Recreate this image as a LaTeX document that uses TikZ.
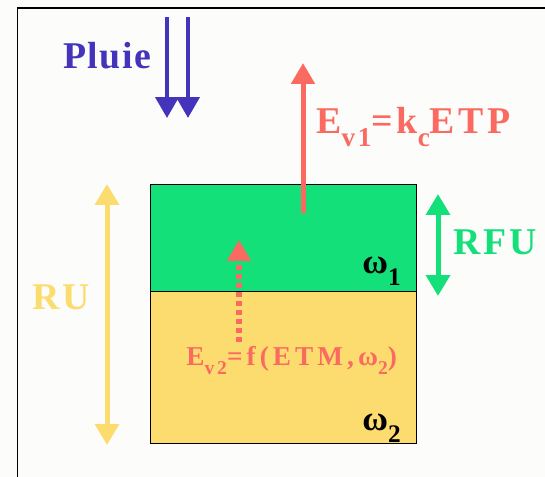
\documentclass[tikz,border=0pt]{standalone}
\usepackage{fontspec}
\usepackage{graphicx}
\usepackage{xcolor}
\setmainfont{Liberation Serif}
\usetikzlibrary{arrows.meta}

\definecolor{pluieblue}{RGB}{68,51,187}
\definecolor{evapred}{RGB}{250,106,96}
\definecolor{rfugreen}{RGB}{20,224,122}
\definecolor{ruyellow}{RGB}{253,220,111}
\definecolor{paper}{RGB}{252,252,250}

\newcommand{\lowsub}[1]{\raisebox{-0.35em}{\scalebox{0.72}{#1}}}

\begin{document}
\begin{tikzpicture}[x=0.02cm,y=-0.02cm,
    bigtxt/.style={font=\fontsize{21.5}{24}\selectfont\bfseries\addfontfeature{LetterSpace=8},
      inner sep=0pt, anchor=base west},
    midtxt/.style={font=\fontsize{15.5}{18}\selectfont\bfseries\addfontfeature{LetterSpace=15},
      inner sep=0pt, anchor=base west},
    omegatxt/.style={font=\fontsize{20}{22}\selectfont\bfseries, inner sep=0pt, anchor=base west},
    tip/.style={-{Triangle[length=0.42cm,width=0.46cm]}},
    bothtips/.style={{Triangle[length=0.42cm,width=0.47cm]}-{Triangle[length=0.42cm,width=0.47cm]}}]
    % page and frame
    \useasboundingbox (0,0) rectangle (545,477);
    \fill[paper] (0,0) rectangle (545,477);
    \draw[line width=0.04cm] (17.5,478) -- (17.5,7.5) -- (546,7.5);

    % soil layers
    \filldraw[fill=rfugreen,draw=black,line width=0.02cm] (150,184) rectangle (416,291);
    \filldraw[fill=ruyellow,draw=black,line width=0.02cm] (150,291) rectangle (416,443);
    \node[omegatxt] (w1) at (362,273) {ω\lowsub{1}};
    \node[omegatxt] (w2) at (362,430) {ω\lowsub{2}};

    % rain
    \node[bigtxt,text=pluieblue,font=\fontsize{21.5}{24}\selectfont\bfseries\addfontfeature{LetterSpace=4}] (pluie) at (63,68) {Pluie};
    \draw[tip,pluieblue,line width=0.08cm] (167,17) -- (167,118);
    \draw[tip,pluieblue,line width=0.08cm] (188,17) -- (188,118);

    % evaporation
    \draw[tip,evapred,line width=0.1cm] (303,213) -- (303,63);
    \node[bigtxt,text=evapred,font=\fontsize{21.5}{24}\selectfont\bfseries\addfontfeature{LetterSpace=10}] (ev1) at (316,133) {E\lowsub{v1}=k\lowsub{c}ETP};
    \draw[tip,evapred,line width=0.12cm,dash pattern=on 0.1cm off 0.08cm] (239,342) -- (239,240);
    \node[midtxt,text=evapred] (ev2) at (186,365) {E\lowsub{v2}=f(ETM,ω\lowsub{2})};

    % reserves
    \draw[bothtips,ruyellow,line width=0.1cm] (107,184) -- (107,445);
    \node[bigtxt,text=ruyellow] (ru) at (32,309) {RU};
    \draw[bothtips,rfugreen,line width=0.1cm] (438,194) -- (438,296);
    \node[bigtxt,text=rfugreen] (rfu) at (453,254) {RFU};
\end{tikzpicture}
\end{document}
